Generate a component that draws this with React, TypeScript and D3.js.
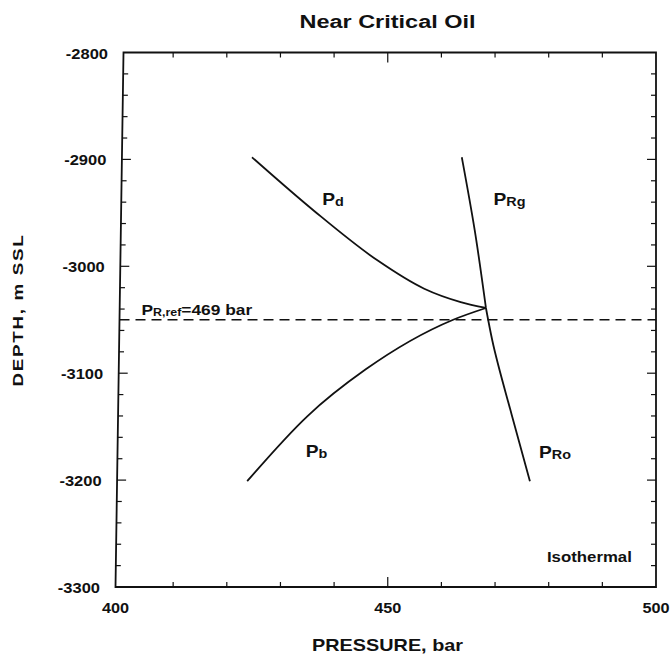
import React from "react";
import * as d3 from "d3";

// Pressure–depth profiles (pressure in bar, depth in m SSL)
const dewPoint: [number, number][] = [
  [424.7, -2898], [436.4, -2948.7], [448.0, -2994.2], [456.8, -3021],
  [463.6, -3033.5], [468.3, -3039],
];
const bubblePoint: [number, number][] = [
  [423.8, -3201], [435.0, -3140.3], [445.9, -3096.4], [462.2, -3050],
  [468.3, -3039],
];
const reservoirGas: [number, number][] = [
  [463.8, -2898], [466.2, -2966], [468.3, -3039],
];
const reservoirOil: [number, number][] = [
  [468.3, -3039], [469.5, -3069.7], [473.1, -3138.8], [476.5, -3201],
];
const refDepth = -3050;
const refPressure = 469;

const xMajorTicks = [400, 450, 500];
const yMajorTicks = [-2800, -2900, -3000, -3100, -3200, -3300];

const W = 670;
const H = 654;
const FONT = "'Liberation Sans', Arial, Helvetica, sans-serif";

type TProps = {
  x: number;
  y: number;
  size: number;
  anchor?: string;
  sx?: number;
  spacing?: number;
  rotate?: boolean;
  children: React.ReactNode;
};

// Bold label with the slightly extended letterforms of the figure
function T({ x, y, size, anchor, sx = 1.2, spacing = 0, rotate, children }: TProps) {
  const tr = `translate(${x},${y})${rotate ? " rotate(-90)" : ""} scale(${sx},1)`;
  return (
    <text
      transform={tr}
      fontSize={size}
      fontWeight="bold"
      fontFamily={FONT}
      textAnchor={anchor ?? "start"}
      letterSpacing={spacing}
      fill="#111"
    >
      {children}
    </text>
  );
}

export default function App() {
  const x = d3.scaleLinear().domain([400, 500]).range([119.5, 656]);
  const y = d3.scaleLinear().domain([-3300, -2800]).range([587, 52.5]);

  const lineX = d3
    .line<[number, number]>()
    .x((d) => x(d[0]))
    .y((d) => y(d[1]))
    .curve(d3.curveMonotoneX);
  const lineY = d3
    .line<[number, number]>()
    .x((d) => x(d[0]))
    .y((d) => y(d[1]))
    .curve(d3.curveMonotoneY);

  const [, x1] = x.range();
  const [y0, y1] = y.range();

  // the left edge of the frame leans slightly (top further right than bottom)
  const leftAt = d3.scaleLinear().domain([y1, y0]).range([123.5, 115.5]);

  // interior ticks only; the ends coincide with the frame
  const xMinor = d3.range(410, 500, 10);
  const yMinor = d3.range(-3280, -2800, 20);

  const frame = `M${leftAt(y1)},${y1}L${x1},${y1}L${x1},${y0}L${leftAt(y0)},${y0}Z`;

  return (
    <svg
      width={W}
      height={H}
      style={{ position: "absolute", left: 0, top: 0, background: "#fff" }}
    >
      <rect width={W} height={H} fill="#fff" />

      {/* frame */}
      <path d={frame} fill="none" stroke="#111" strokeWidth={1.8} strokeLinejoin="miter" />

      {/* inward ticks on all four sides */}
      {xMinor.map((v) => {
        const len = v % 50 === 0 ? 10 : 5;
        return (
          <g key={"xt" + v} stroke="#111" strokeWidth={1.2}>
            <line x1={x(v)} x2={x(v)} y1={y0} y2={y0 - len} />
            <line x1={x(v)} x2={x(v)} y1={y1} y2={y1 + len} />
          </g>
        );
      })}
      {yMinor.map((v) => {
        const len = v % 100 === 0 ? 9 : 5;
        const l = leftAt(y(v));
        return (
          <g key={"yt" + v} stroke="#111" strokeWidth={1.2}>
            <line x1={l} x2={l + len} y1={y(v)} y2={y(v)} />
            <line x1={x1} x2={x1 - len} y1={y(v)} y2={y(v)} />
          </g>
        );
      })}

      {/* tick labels */}
      {yMajorTicks.map((v) => (
        <T
          key={"yl" + v}
          x={leftAt(y(v)) - 15.5}
          y={y(v) + 6}
          size={14}
          sx={1.18}
          anchor="end"
        >
          {String(v)}
        </T>
      ))}
      {xMajorTicks.map((v) => (
        <T
          key={"xl" + v}
          x={v === 400 ? leftAt(y0) : x(v)}
          y={613}
          size={14}
          sx={1.16}
          anchor="middle"
        >
          {String(v)}
        </T>
      ))}

      {/* reference depth */}
      <line
        x1={leftAt(y(refDepth))}
        x2={x1}
        y1={y(refDepth)}
        y2={y(refDepth)}
        stroke="#111"
        strokeWidth={1.4}
        strokeDasharray="10,6"
      />

      {/* saturation and reservoir pressure curves */}
      {[dewPoint, bubblePoint].map((d, i) => (
        <path key={"s" + i} d={lineX(d) ?? ""} fill="none" stroke="#111" strokeWidth={1.8} />
      ))}
      {[reservoirGas, reservoirOil].map((d, i) => (
        <path key={"r" + i} d={lineY(d) ?? ""} fill="none" stroke="#111" strokeWidth={1.8} />
      ))}

      {/* curve labels */}
      <T x={x(437.8)} y={y(-2942.4)} size={16}>
        P<tspan fontSize={12} dy={1}>d</tspan>
      </T>
      <T x={x(469.7)} y={y(-2942.4)} size={16}>
        P<tspan fontSize={12} dy={1}>Rg</tspan>
      </T>
      <T x={x(434.7)} y={y(-3178)} size={16}>
        P<tspan fontSize={12} dy={1}>b</tspan>
      </T>
      <T x={x(478.2)} y={y(-3179)} size={16}>
        P<tspan fontSize={12} dy={1}>Ro</tspan>
      </T>
      <T x={x(404.1)} y={y(-3046)} size={14} sx={1.24}>
        P<tspan fontSize={10} dy={1}>R,ref</tspan>
        <tspan dy={-1}>{`=${refPressure} bar`}</tspan>
      </T>
      <T x={x(495.5)} y={562} size={14} sx={1.2} anchor="end">
        Isothermal
      </T>

      {/* titles */}
      <T x={387.5} y={28} size={18.5} sx={1.27} anchor="middle">
        Near Critical Oil
      </T>
      <T x={387.5} y={651} size={16} sx={1.24} anchor="middle">
        PRESSURE, bar
      </T>
      <T x={23} y={310} size={15.4} sx={1.22} spacing={1.4} anchor="middle" rotate>
        DEPTH, m SSL
      </T>
    </svg>
  );
}
